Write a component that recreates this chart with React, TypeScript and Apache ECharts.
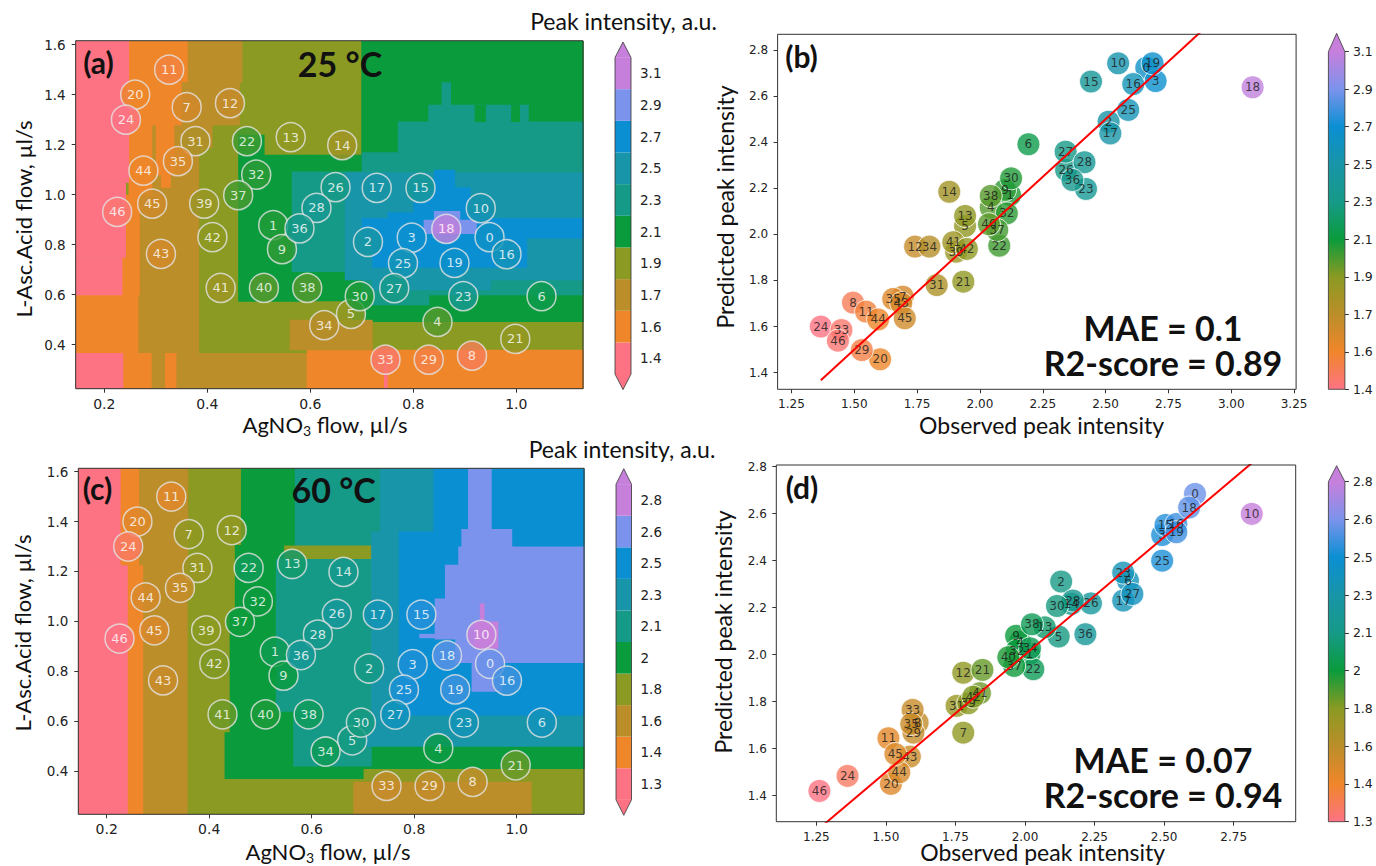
import React, { useEffect, useRef } from "react";
import * as echarts from "echarts";

// ---------- colours (10 levels, low -> high) ----------
const COLORS = ["#fd7384", "#f0862a", "#bb8e2a", "#8a9a22", "#0a9b3c", "#169a88", "#1895a8", "#0b8fd3", "#7b93ec", "#c77fdc"];

// ---------- experiment points ----------
const IDS = [0,1,2,3,4,5,6,7,8,9,10,11,12,13,14,15,16,17,18,19,20,21,22,23,24,25,26,27,28,29,30,31,32,33,34,35,36,37,38,39,40,41,42,43,44,45,46];
const AGNO3_FLOW = [0.948,0.528,0.712,0.797,0.847,0.679,1.049,0.360,0.914,0.545,0.931,0.326,0.444,0.562,0.662,0.814,0.981,0.729,0.864,0.880,0.260,0.998,0.477,0.897,0.242,0.780,0.649,0.763,0.612,0.830,0.696,0.377,0.495,0.746,0.627,0.343,0.579,0.460,0.594,0.394,0.510,0.426,0.410,0.310,0.276,0.293,0.225];
const ASC_FLOW = [0.830,0.878,0.811,0.828,0.491,0.523,0.594,1.350,0.356,0.782,0.946,1.500,1.366,1.230,1.198,1.027,0.762,1.027,0.863,0.727,1.400,0.423,1.214,0.594,1.300,0.726,1.030,0.626,0.947,0.340,0.594,1.214,1.080,0.340,0.478,1.134,0.865,0.998,0.627,0.964,0.627,0.627,0.830,0.763,1.096,0.964,0.931];

// 25 °C observed / predicted
const OBS_25 = [2.662,2.120,2.512,2.699,2.043,1.941,2.193,1.693,1.495,2.100,2.550,1.547,1.742,1.941,1.878,2.442,2.610,2.519,3.085,2.687,1.603,1.934,2.077,2.422,1.367,2.590,2.343,2.341,2.416,1.530,2.124,1.828,2.107,1.449,1.799,1.655,2.368,2.069,2.043,1.905,2.036,1.894,1.948,1.687,1.595,1.701,1.435];
const PRED_25 = [2.723,2.171,2.489,2.665,2.117,2.036,2.391,1.730,1.704,2.193,2.742,1.665,1.947,2.080,2.185,2.663,2.652,2.438,2.638,2.742,1.458,1.795,1.951,2.197,1.600,2.540,2.279,2.359,2.313,1.498,2.243,1.780,2.091,1.585,1.947,1.720,2.236,2.019,2.167,1.925,2.044,1.966,1.937,1.701,1.631,1.636,1.539];
// 60 °C observed / predicted
const OBS_60 = [2.611,2.016,2.130,2.493,1.982,2.121,2.370,1.778,1.614,1.968,2.815,1.509,1.778,2.071,2.167,2.505,2.544,2.353,2.590,2.544,1.518,1.847,2.030,2.353,1.362,2.493,2.237,2.386,2.172,1.599,2.115,1.754,1.970,1.596,2.018,1.591,2.217,1.961,2.025,1.796,1.940,1.838,1.814,1.586,1.548,1.534,1.261];
const PRED_60 = [2.684,2.003,2.311,2.509,2.055,2.077,2.315,1.668,1.711,2.080,2.599,1.644,1.923,2.116,2.216,2.552,2.556,2.230,2.626,2.521,1.450,1.935,1.938,2.349,1.484,2.400,2.218,2.258,2.230,1.668,2.207,1.782,2.017,1.765,2.027,1.705,2.087,1.952,2.129,1.793,1.989,1.836,1.821,1.566,1.499,1.577,1.420];

// ---------- predicted maps: [x0, x1, y0, y1, level] ----------
const MAP_25 = [
  [0.1445,1.1295,0.224,1.616,3],
  [0.265,0.383,0.367,1.28,2],
  [0.1445,0.265,0.367,0.60,1],
  [0.234,0.268,0.60,1.0,1],
  [0.247,0.292,1.0,1.28,1],
  [0.300,0.335,1.08,1.28,1],
  [0.31,0.328,1.03,1.08,1],
  [0.247,0.362,1.45,1.616,1],
  [0.247,0.35,1.28,1.45,1],
  [0.362,0.467,1.45,1.616,2],
  [0.35,0.462,1.28,1.45,2],
  [0.383,0.409,1.19,1.28,2],
  [0.1445,0.247,1.05,1.616,0],
  [0.1445,0.241,0.75,1.05,0],
  [0.1445,0.234,0.60,0.75,0],
  [0.1445,0.237,0.224,0.367,0],
  [0.237,0.292,0.224,0.367,1],
  [0.292,0.318,0.224,0.367,2],
  [0.318,0.340,0.224,0.367,1],
  [0.340,0.593,0.224,0.367,2],
  [0.593,1.1295,0.224,0.38,1],
  [0.46,0.60,0.574,1.16,4],
  [0.46,0.51,1.16,1.24,4],
  [0.60,1.1295,0.493,1.16,4],
  [0.699,1.1295,1.16,1.616,4],
  [0.58,0.68,0.50,0.574,3],
  [0.56,0.72,0.38,0.50,2],
  [0.564,0.70,0.693,1.093,5],
  [0.70,1.1295,0.60,1.17,5],
  [0.77,1.1295,1.17,1.293,5],
  [0.829,1.023,1.293,1.36,5],
  [0.919,0.94,1.293,1.36,4],
  [0.99,1.006,1.293,1.36,4],
  [0.855,0.872,1.36,1.45,5],
  [0.72,0.83,0.56,0.60,5],
  [0.667,1.1295,0.66,1.09,6],
  [0.72,0.95,0.62,0.66,6],
  [0.70,1.1295,0.827,0.907,7],
  [0.72,1.02,0.71,0.827,7],
  [0.75,0.95,0.907,0.93,7],
  [0.80,0.91,0.93,1.03,7],
  [0.84,0.88,1.03,1.1,7],
  [0.82,0.922,0.845,0.9,8],
  [0.84,0.89,0.9,0.935,8],
  [0.85,0.878,0.845,0.885,9],
  [0.743,0.749,0.224,0.34,0],
];
const MAP_60 = [
  [0.1446,1.1313,0.2263,1.6136,3],
  [0.262,0.358,1.225,1.6136,2],
  [0.270,0.357,0.2263,1.225,2],
  [0.226,0.262,1.225,1.6136,1],
  [0.240,0.270,0.2263,1.225,1],
  [0.1446,0.226,1.225,1.6136,0],
  [0.1446,0.240,0.2263,1.225,0],
  [0.462,0.567,1.306,1.6136,4],
  [0.45,0.545,1.04,1.306,4],
  [0.44,0.564,0.555,1.04,4],
  [0.43,0.70,0.37,0.555,4],
  [0.70,1.1313,0.41,0.50,4],
  [0.567,0.733,1.306,1.6136,5],
  [0.53,0.716,0.64,1.25,5],
  [0.564,0.716,0.42,0.64,5],
  [0.632,0.70,0.45,0.625,5],
  [0.733,0.837,1.36,1.6136,6],
  [0.716,0.77,0.625,1.36,6],
  [0.70,1.1313,0.50,0.625,6],
  [0.77,1.1313,0.625,1.36,7],
  [0.837,1.1313,1.36,1.6136,7],
  [0.905,0.95,1.37,1.6136,8],
  [0.892,0.99,1.30,1.37,8],
  [0.886,1.1313,1.227,1.30,8],
  [0.86,1.1313,1.092,1.227,8],
  [0.84,1.1313,0.93,1.092,8],
  [0.88,1.1313,0.835,0.93,8],
  [0.912,0.97,0.72,0.835,8],
  [0.81,0.84,0.935,0.95,8],
  [0.918,0.963,0.892,0.999,9],
  [0.928,0.936,0.999,1.072,9],
  [0.681,1.028,0.2263,0.357,2],
];

// ---------- ticks / labels ----------
const FLOW_X_TICKS = [0.2, 0.4, 0.6, 0.8, 1.0];
const FLOW_Y_TICKS = [0.4, 0.6, 0.8, 1.0, 1.2, 1.4, 1.6];
const B_X_TICKS = [1.25, 1.5, 1.75, 2.0, 2.25, 2.5, 2.75, 3.0, 3.25];
const D_X_TICKS = [1.25, 1.5, 1.75, 2.0, 2.25, 2.5, 2.75];
const PRED_Y_TICKS = [1.4, 1.6, 1.8, 2.0, 2.2, 2.4, 2.6, 2.8];
const CB25_LABELS = ["1.4", "1.6", "1.7", "1.9", "2.1", "2.3", "2.5", "2.7", "2.9", "3.1"];
const CB60_LABELS = ["1.3", "1.4", "1.6", "1.8", "2", "2.1", "2.3", "2.5", "2.6", "2.8"];
const RANGE_25 = [1.4, 3.1];
const RANGE_60 = [1.3, 2.8];

// ---------- layout ----------
const GRID_A = { left: 75.7, top: 40.7, width: 507.3, height: 348 };
const GRID_B = { left: 777.6, top: 34.3, width: 518.5, height: 355 };
const GRID_C = { left: 78.3, top: 468.3, width: 505.7, height: 346 };
const GRID_D = { left: 776.3, top: 465, width: 519.4, height: 356.7 };
const CB_A = { left: 615, top: 57.5, width: 16, height: 316.6, tip: 15.5, bottom: true };
const CB_B = { left: 1328.4, top: 51.7, width: 16.5, height: 337.6, tip: 18.4, bottom: false };
const CB_C = { left: 616, top: 484.2, width: 15.5, height: 315.6, tip: 15.5, bottom: true };
const CB_D = { left: 1328.4, top: 481.7, width: 16.5, height: 340, tip: 16, bottom: false };

const TICK_FONT = '"DejaVu Sans", sans-serif';
const TITLE_FONT = 'Lato, "Open Sans", sans-serif';

function hexRgb(h: string) {
  return [parseInt(h.slice(1, 3), 16), parseInt(h.slice(3, 5), 16), parseInt(h.slice(5, 7), 16)];
}
function cmap(v: number, lo: number, hi: number) {
  let t = (v - lo) / (hi - lo);
  t = Math.max(0, Math.min(1, t));
  const s = t * (COLORS.length - 1);
  const i = Math.min(Math.floor(s), COLORS.length - 2);
  const f = s - i;
  const a = hexRgb(COLORS[i]);
  const b = hexRgb(COLORS[i + 1]);
  const c = a.map((x, k) => Math.round(x + (b[k] - x) * f));
  return `rgb(${c[0]},${c[1]},${c[2]})`;
}

function valAxis(gridIndex: number, min: number, max: number, ticks: number[], digits: number, fontSize: number, margin: number) {
  return {
    type: "value",
    gridIndex,
    min,
    max,
    splitLine: { show: false },
    axisLine: { show: false },
    axisTick: { show: true, length: 4, lineStyle: { color: "#333" }, customValues: ticks },
    axisLabel: {
      customValues: ticks,
      formatter: (v: number) => v.toFixed(digits),
      color: "#222",
      fontSize,
      fontFamily: TICK_FONT,
      margin,
    },
  };
}

function regionSeries(data: number[][], axisIndex: number) {
  return {
    type: "custom",
    xAxisIndex: axisIndex,
    yAxisIndex: axisIndex,
    clip: true,
    silent: true,
    encode: { x: [0, 1], y: [2, 3] },
    data,
    renderItem: (_p: any, api: any) => {
      const p0 = api.coord([api.value(0), api.value(3)]);
      const p1 = api.coord([api.value(1), api.value(2)]);
      return {
        type: "rect",
        shape: { x: p0[0], y: p0[1], width: p1[0] - p0[0] + 0.6, height: p1[1] - p0[1] + 0.6 },
        style: { fill: COLORS[api.value(4)] },
      };
    },
    z: 1,
  };
}

function circleSeries(axisIndex: number, obs: number[], range: number[]) {
  return {
    type: "scatter",
    xAxisIndex: axisIndex,
    yAxisIndex: axisIndex,
    data: IDS.map((i) => [AGNO3_FLOW[i], ASC_FLOW[i], obs[i], i]),
    symbolSize: 29,
    itemStyle: {
      color: (p: any) => cmap(p.data[2], range[0], range[1]),
      borderColor: "#e4e4e4",
      borderWidth: 1.5,
    },
    label: {
      show: true,
      position: "inside",
      formatter: (p: any) => String(p.data[3]),
      color: "#fff",
      fontSize: 13,
      fontFamily: TICK_FONT,
    },
    z: 3,
  };
}

function parityScatter(axisIndex: number, obs: number[], pred: number[], range: number[]) {
  return {
    type: "scatter",
    xAxisIndex: axisIndex,
    yAxisIndex: axisIndex,
    data: IDS.map((i) => [obs[i], pred[i], obs[i], i]),
    symbolSize: 23,
    itemStyle: {
      color: (p: any) => cmap(p.data[2], range[0], range[1]),
      borderColor: "#ffffff",
      borderWidth: 1,
    },
    label: {
      show: true,
      position: "inside",
      formatter: (p: any) => String(p.data[3]),
      color: "#1a1a1a",
      fontSize: 12,
      fontFamily: TICK_FONT,
    },
    z: 3,
  };
}

function identityLine(axisIndex: number, obs: number[]) {
  const lo = Math.min(...obs);
  const hi = Math.max(...obs);
  return {
    type: "line",
    xAxisIndex: axisIndex,
    yAxisIndex: axisIndex,
    data: [[lo, lo], [hi, hi]],
    symbol: "none",
    clip: true,
    silent: true,
    lineStyle: { color: "#ff0000", width: 2 },
    z: 5,
  };
}

function cbGraphics(cb: any) {
  const x0 = cb.left, x1 = cb.left + cb.width, xm = cb.left + cb.width / 2;
  const y0 = cb.top, y1 = cb.top + cb.height;
  const els: any[] = [
    { type: "polygon", shape: { points: [[x0, y0 + 0.3], [x1, y0 + 0.3], [xm, y0 - cb.tip]] }, style: { fill: COLORS[9] }, z: 50, silent: true },
  ];
  const outline: number[][] = [[x0, y0], [xm, y0 - cb.tip], [x1, y0]];
  if (cb.bottom) {
    els.push({ type: "polygon", shape: { points: [[x0, y1 - 0.3], [x1, y1 - 0.3], [xm, y1 + cb.tip]] }, style: { fill: COLORS[0] }, z: 50, silent: true });
    outline.push([x1, y1], [xm, y1 + cb.tip], [x0, y1], [x0, y0]);
  } else {
    outline.push([x1, y1], [x0, y1], [x0, y0]);
  }
  els.push({ type: "polyline", shape: { points: outline }, style: { fill: null, stroke: "#333", lineWidth: 0.8 }, z: 60, silent: true });
  return els;
}

function frame(g: any) {
  return { type: "rect", shape: { x: g.left, y: g.top, width: g.width, height: g.height }, style: { fill: null, stroke: "#333", lineWidth: 1 }, z: 100, silent: true };
}

function txt(x: number, y: number, text: string, size: number, bold: boolean, rotation = 0, rich?: any) {
  return {
    type: "text",
    x,
    y,
    rotation,
    z: 110,
    silent: true,
    style: {
      text,
      fontSize: size,
      fontWeight: bold ? "bold" : "normal",
      fontFamily: TITLE_FONT,
      fill: "#111",
      align: "center",
      verticalAlign: "middle",
      rich,
    },
  };
}

const SUB_RICH = {
  a: { fontSize: 22, fontFamily: TITLE_FONT, fill: "#111" },
  s: { fontSize: 14, fontFamily: TITLE_FONT, fill: "#111", padding: [12, 0, 0, 0] },
};

export default function App() {
  const ref = useRef<HTMLDivElement>(null);
  useEffect(() => {
    if (!ref.current) return;
    const chart = echarts.init(ref.current, undefined, { renderer: "svg" });

    const grids = [GRID_A, GRID_B, GRID_C, GRID_D, CB_A, CB_B, CB_C, CB_D].map((g) => ({
      left: g.left, top: g.top, width: g.width, height: g.height, containLabel: false,
    }));

    const xAxis: any[] = [
      valAxis(0, 0.1445, 1.1295, FLOW_X_TICKS, 1, 14, 8),
      valAxis(1, 1.195, 3.258, B_X_TICKS, 2, 12, 9),
      valAxis(2, 0.1446, 1.1313, FLOW_X_TICKS, 1, 14, 8),
      valAxis(3, 1.106, 2.973, D_X_TICKS, 2, 12, 9),
      { type: "value", gridIndex: 4, min: 0, max: 1, show: false },
      { type: "category", gridIndex: 5, data: ["c"], show: false },
      { type: "value", gridIndex: 6, min: 0, max: 1, show: false },
      { type: "category", gridIndex: 7, data: ["c"], show: false },
    ];
    const cbCat = (gi: number, labels: string[]) => ({
      type: "category",
      gridIndex: gi,
      data: labels,
      position: "right",
      axisLine: { show: false },
      splitLine: { show: false },
      axisTick: { show: true, alignWithLabel: true, length: 4, lineStyle: { color: "#333" } },
      axisLabel: { color: "#222", fontSize: 13.5, fontFamily: TICK_FONT, margin: 9 },
    });
    const cbIdx = CB25_LABELS.map((_, i) => i);
    const cbVal = (gi: number, labels: string[]) => ({
      type: "value",
      gridIndex: gi,
      min: 0,
      max: labels.length - 1,
      position: "right",
      axisLine: { show: false },
      splitLine: { show: false },
      axisTick: { show: true, length: 4, lineStyle: { color: "#333" }, customValues: cbIdx },
      axisLabel: {
        customValues: cbIdx,
        formatter: (v: number) => labels[Math.round(v)],
        color: "#222",
        fontSize: 12.5,
        fontFamily: TICK_FONT,
        margin: 8,
      },
    });
    const yAxis: any[] = [
      valAxis(0, 0.224, 1.616, FLOW_Y_TICKS, 1, 13.5, 10),
      valAxis(1, 1.328, 2.868, PRED_Y_TICKS, 1, 12, 9.5),
      valAxis(2, 0.2263, 1.6136, FLOW_Y_TICKS, 1, 13.5, 10),
      valAxis(3, 1.289, 2.807, PRED_Y_TICKS, 1, 12, 9.5),
      cbCat(4, CB25_LABELS),
      cbVal(5, CB25_LABELS),
      cbCat(6, CB60_LABELS),
      cbVal(7, CB60_LABELS),
    ];

    const gradient = () =>
      new echarts.graphic.LinearGradient(0, 1, 0, 0, COLORS.map((c, i) => ({ offset: i / (COLORS.length - 1), color: c })));
    const bandBar = (gi: number, labels: string[]) => ({
      type: "bar",
      xAxisIndex: gi,
      yAxisIndex: gi,
      silent: true,
      barCategoryGap: "0%",
      data: labels.map((_, i) => ({ value: 1, itemStyle: { color: COLORS[i] } })),
    });
    const gradBar = (gi: number, labels: string[]) => ({
      type: "bar",
      xAxisIndex: gi,
      yAxisIndex: gi,
      silent: true,
      barWidth: "100%",
      data: [labels.length - 1],
      itemStyle: { color: gradient() },
    });

    const series: any[] = [
      regionSeries(MAP_25, 0),
      circleSeries(0, OBS_25, RANGE_25),
      regionSeries(MAP_60, 2),
      circleSeries(2, OBS_60, RANGE_60),
      parityScatter(1, OBS_25, PRED_25, RANGE_25),
      identityLine(1, OBS_25),
      parityScatter(3, OBS_60, PRED_60, RANGE_60),
      identityLine(3, OBS_60),
      bandBar(4, CB25_LABELS),
      gradBar(5, CB25_LABELS),
      bandBar(6, CB60_LABELS),
      gradBar(7, CB60_LABELS),
    ];

    const graphic: any[] = [
      frame(GRID_A), frame(GRID_B), frame(GRID_C), frame(GRID_D),
      ...cbGraphics(CB_A), ...cbGraphics(CB_B), ...cbGraphics(CB_C), ...cbGraphics(CB_D),
      txt(623.5, 21, "Peak intensity, a.u.", 23, false),
      txt(622, 449, "Peak intensity, a.u.", 23, false),
      txt(98.5, 62, "(a)", 30, true),
      txt(340, 63, "25 °C", 34, true),
      txt(801.5, 56, "(b)", 30, true),
      txt(97.5, 488, "(c)", 30, true),
      txt(333.6, 489, "60 °C", 34, true),
      txt(802, 487, "(d)", 30, true),
      txt(1163, 327, "MAE = 0.1", 34, true),
      txt(1163, 362, "R2-score = 0.89", 34, true),
      txt(1163, 759, "MAE = 0.07", 34, true),
      txt(1163, 794, "R2-score = 0.94", 34, true),
      txt(23.5, 219, "L-Asc.Acid flow, µl/s", 22, false, Math.PI / 2),
      txt(22, 633, "L-Asc.Acid flow, µl/s", 22, false, Math.PI / 2),
      txt(725, 207, "Predicted peak intensity", 23, false, Math.PI / 2),
      txt(722.5, 632, "Predicted peak intensity", 23, false, Math.PI / 2),
      txt(325, 424, "{a|AgNO}{s|3}{a| flow, µl/s}", 22, false, 0, SUB_RICH),
      txt(328, 851, "{a|AgNO}{s|3}{a| flow, µl/s}", 22, false, 0, SUB_RICH),
      txt(1041.6, 425, "Observed peak intensity", 23, false),
      txt(1042.7, 852, "Observed peak intensity", 23, false),
    ];

    chart.setOption({
      animation: false,
      backgroundColor: "#ffffff",
      grid: grids,
      xAxis,
      yAxis,
      series,
      graphic,
    });
    return () => chart.dispose();
  }, []);

  return (
    <div
      ref={ref}
      style={{ position: "fixed", left: 0, top: 0, width: 1376, height: 866, background: "#fff" }}
    />
  );
}
